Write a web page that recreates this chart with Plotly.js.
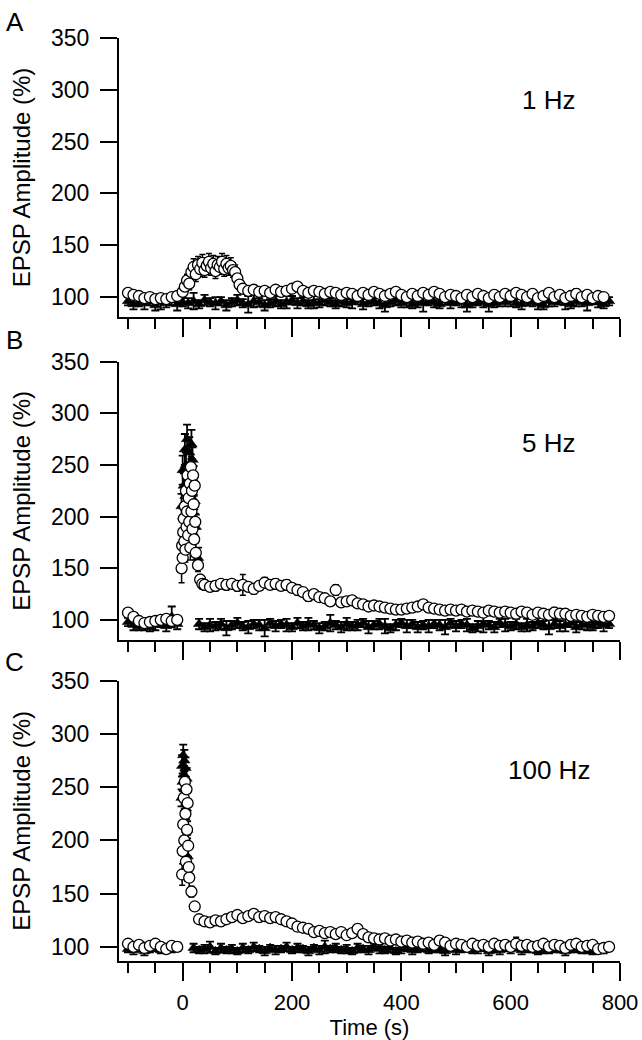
<!DOCTYPE html>
<html>
<head>
<meta charset="utf-8">
<script src="https://cdn.plot.ly/plotly-3.0.1.min.js"></script>
<style>
  html, body { margin: 0; padding: 0; background: #fff; }
  #chart { width: 642px; height: 1040px; }
</style>
</head>
<body>
<div id="chart"></div>
<script>
// ---------------- DATA ----------------
// Panel A (1 Hz) – open circles (test pathway)
const tA_open = [-100,-90,-80,-70,-60,-50,-40,-30,-20,-10,
  0,4,8,12,16,20,24,28,32,36,40,44,48,52,56,60,64,68,72,76,80,84,88,92,96,100,104,
  110,120,130,140,150,160,170,180,190,200,210,220,230,240,250,260,270,280,290,300,
  310,320,330,340,350,360,370,380,390,400,410,420,430,440,450,460,470,480,490,500,
  510,520,530,540,550,560,570,580,590,600,610,620,630,640,650,660,670,680,690,700,
  710,720,730,740,750,760,770];
const yA_open = [104,102,101,99,100,98,99,98,100,101,
  105,110,116,113,124,129,122,131,127,133,126,130,134,128,132,125,131,129,134,127,132,128,130,126,124,118,112,
  108,106,107,105,106,104,107,105,106,108,110,106,104,106,105,103,105,104,102,104,
  103,101,104,102,105,103,101,103,105,102,100,103,101,104,102,105,103,100,102,101,
  99,102,100,103,101,99,102,100,103,101,104,102,100,103,99,101,104,100,102,99,
  101,103,100,102,99,101,100];
const eA_open = [3,3,3,3,3,3,3,3,3,3,
  4,5,6,6,7,8,7,8,7,8,7,8,8,7,8,7,8,7,8,7,8,7,8,7,7,6,5,
  4,3,4,3,4,3,4,3,4,3,4,3,3,4,3,3,4,3,3,4,
  3,3,4,3,4,3,3,4,3,3,3,4,3,3,4,3,3,3,4,3,
  3,3,4,3,3,3,4,3,3,5,3,4,3,3,4,3,3,4,3,3,
  3,5,3,3,4,3,3];
// Panel A – filled markers (control pathway)
const tA_fill = [-100,-90,-80,-70,-60,-50,-40,-30,-20,-10,0,10,20,30,40,50,60,70,80,90,
  100,110,120,130,140,150,160,170,180,190,200,210,220,230,240,250,260,270,280,290,
  300,310,320,330,340,350,360,370,380,390,400,410,420,430,440,450,460,470,480,490,
  500,510,520,530,540,550,560,570,580,590,600,610,620,630,640,650,660,670,680,690,
  700,710,720,730,740,750,760,770,780];
const yA_fill = [96,93,95,94,96,92,95,94,97,93,95,94,96,93,97,95,94,96,92,95,
  97,94,93,96,95,92,94,96,93,95,97,94,96,93,95,94,97,95,93,96,
  94,95,97,93,95,96,94,92,95,97,94,96,93,95,94,96,95,93,97,94,
  96,95,92,94,96,95,93,94,96,95,97,94,93,96,95,94,92,96,95,97,
  94,93,96,95,94,97,95,93,96];
const eA_fill = [4,5,4,6,4,5,7,4,5,6,4,5,8,4,5,4,6,4,5,4,
  5,4,8,6,4,5,4,5,4,6,4,5,4,4,6,4,5,4,4,5,
  4,6,4,5,4,4,5,6,4,5,4,6,4,5,8,4,5,4,4,5,
  4,5,6,4,4,5,7,4,5,4,6,4,5,4,4,6,4,5,4,4,
  6,4,5,4,7,4,5,4,4];

// Panel B (5 Hz) – open circles
const tB_open = [-100,-90,-80,-70,-60,-50,-40,-30,-20,-10,
  -2,-1,0,1,2,3,4,5,6,7,8,9,10,11,12,13,14,15,16,17,18,19,20,21,22,23,24,28,32,36,
  40,50,60,70,80,90,100,110,120,130,140,150,160,170,180,190,200,210,220,230,
  240,250,260,270,280,290,300,310,320,330,340,350,360,370,380,390,400,410,420,430,
  440,450,460,470,480,490,500,510,520,530,540,550,560,570,580,590,600,610,620,630,
  640,650,660,670,680,690,700,710,720,730,740,750,760,770,780];
const yB_open = [107,103,99,97,98,99,100,101,99,100,
  150,172,160,185,198,176,210,168,225,190,205,240,182,218,195,232,170,248,205,225,188,240,212,178,230,195,165,153,139,135,
  134,132,133,135,134,135,133,134,132,130,133,136,134,135,133,134,131,129,127,123,
  125,122,121,118,129,117,118,119,116,115,113,114,113,112,111,110,110,111,112,113,
  115,112,111,110,109,110,109,110,108,109,108,107,109,108,107,108,107,106,108,107,
  105,107,106,105,107,106,106,104,105,104,103,105,104,103,104];
const eB_open = [3,3,3,3,3,3,3,3,3,3,
  14,10,12,10,10,12,10,12,10,12,10,12,10,10,12,10,12,10,12,10,12,10,10,12,10,12,10,6,5,5,
  5,4,5,4,5,4,5,10,4,5,4,5,4,5,4,5,4,5,4,5,
  4,4,4,4,5,4,4,4,4,4,4,4,4,4,4,4,4,4,4,4,
  4,4,4,4,4,4,4,4,4,4,4,4,4,4,4,4,4,4,4,4,
  4,4,4,4,5,4,4,4,4,4,4,4,4,4,4];
// Panel B – filled markers
const tB_fill = [-100,-90,-80,-70,-60,-50,-40,-30,-20,-10,
  -2,0,2,4,6,8,10,12,14,16,18,20,22,24,28,
  30,40,50,60,70,80,90,100,110,120,130,140,150,160,170,180,190,200,210,220,
  230,240,250,260,270,280,290,300,310,320,330,340,350,360,370,380,390,400,410,420,
  430,440,450,460,470,480,490,500,510,520,530,540,550,560,570,580,590,600,610,620,
  630,640,650,660,670,680,690,700,710,720,730,740,750,760,770,780];
const yB_fill = [98,95,94,96,93,95,97,94,103,96,
  210,245,230,265,250,275,240,262,225,270,255,235,215,190,160,
  96,93,95,94,96,92,95,97,94,93,96,95,92,97,94,96,95,93,97,94,
  96,95,92,94,97,95,93,96,94,95,97,93,95,96,94,92,95,97,94,96,
  93,95,94,96,95,93,97,94,96,95,92,94,96,95,93,97,95,94,96,93,
  95,94,97,95,93,96,94,95,97,93,95,96,94,97,95,96];
const eB_fill = [4,5,4,6,4,5,4,5,10,5,
  12,14,12,15,12,14,12,15,12,14,12,14,12,12,10,
  5,4,6,4,5,7,4,5,4,6,4,5,8,4,5,4,6,4,5,4,
  6,4,5,4,8,4,5,6,4,5,4,6,4,5,7,4,5,4,6,4,
  5,4,6,4,5,7,4,5,4,6,4,5,8,4,5,4,6,4,5,4,
  6,4,5,4,7,4,5,6,4,5,4,6,4,5,6,4];

// Panel C (100 Hz) – open circles
const tC_open = [-100,-90,-80,-70,-60,-50,-40,-30,-20,-10,
  -1,0,1,2,3,4,5,6,7,8,9,10,11,12,16,22,
  30,40,50,60,70,80,90,100,110,120,130,140,150,160,170,180,190,200,210,220,
  230,240,250,260,270,280,290,300,310,320,330,340,350,360,370,380,390,400,410,420,
  430,440,450,460,470,480,490,500,510,520,530,540,550,560,570,580,590,600,610,620,
  630,640,650,660,670,680,690,700,710,720,730,740,750,760,770,780];
const yC_open = [103,100,102,99,101,103,100,98,101,100,
  168,190,215,240,200,255,225,180,248,210,235,195,175,165,152,138,
  126,124,123,125,124,126,128,130,127,129,131,128,129,127,128,126,124,122,119,118,
  117,114,115,113,114,112,114,111,113,117,112,109,108,107,108,106,107,105,106,104,
  105,103,104,102,106,104,101,103,102,100,103,101,102,100,103,101,102,100,103,101,
  102,100,101,103,100,102,101,99,102,103,100,101,102,98,99,100];
const eC_open = [3,3,3,3,3,3,3,3,3,3,
  10,12,12,10,12,10,12,10,12,10,12,10,10,12,5,4,
  4,3,4,3,4,3,4,4,3,4,3,4,3,4,3,4,3,4,4,3,
  4,3,4,3,4,3,4,3,4,4,3,3,4,3,3,4,3,3,4,3,
  3,4,3,3,4,3,3,4,3,3,4,3,3,4,3,3,4,3,6,3,
  3,4,3,3,4,3,3,4,3,3,4,3,3,4,3,3];
// Panel C – filled markers
const tC_fill = [-100,-90,-80,-70,-60,-50,-40,-30,-20,-10,
  -2,-1,0,1,2,3,4,5,6,7,8,9,10,
  20,30,40,50,60,70,80,90,100,110,120,130,140,150,160,170,180,190,200,210,220,
  230,240,250,260,270,280,290,300,310,320,330,340,350,360,370,380,390,400,410,420,
  430,440,450,460,470,480,490,500,510,520,530,540,550,560,570,580,590,600,610,620,
  630,640,650,660,670,680,690,700,710,720,730,740,750,760,770,780];
const yC_fill = [98,97,99,96,98,100,97,99,98,100,
  240,270,255,280,262,275,248,268,230,258,210,185,170,
  99,97,98,100,96,99,97,98,96,99,97,100,98,96,99,97,98,100,97,99,
  98,96,99,97,100,98,99,97,98,96,99,98,97,100,98,97,99,96,98,99,
  97,98,100,97,99,98,96,99,97,98,100,97,98,99,96,98,97,99,98,100,
  97,98,99,96,98,97,99,98,96,98,99,97,98,96,98,97];
const eC_fill = [3,4,3,4,3,4,3,4,3,4,
  8,10,8,10,8,10,8,10,8,10,8,10,8,
  4,3,4,5,3,4,3,4,3,4,3,4,3,4,3,4,3,4,3,4,3,
  4,3,4,6,3,4,3,4,3,4,3,4,3,4,3,4,3,4,3,4,
  3,4,3,4,3,4,3,4,3,4,3,4,3,4,3,4,3,4,3,4,
  3,4,3,4,3,4,3,4,3,4,3,4,3,4,3,4];

const yTicks = [100,150,200,250,300,350];
const xTickVals = [0,200,400,600,800];
const freqLabels = ['1 Hz','5 Hz','100 Hz'];
const panelLetters = ['A','B','C'];

// ---------------- CHART ----------------
const FONT = 'Liberation Sans, Arial, Helvetica, sans-serif';

function openTrace(t, y, e, ax) {
  return {x: t, y: y, type: 'scatter', mode: 'markers', xaxis: 'x' + ax, yaxis: 'y' + ax,
    marker: {symbol: 'circle', size: 11, color: '#ffffff', line: {color: '#000', width: 1.3}},
    error_y: {type: 'data', array: e, visible: true, color: '#000', thickness: 1.5, width: 3},
    showlegend: false, hoverinfo: 'x+y'};
}
function fillTrace(t, y, e, ax) {
  return {x: t, y: y, type: 'scatter', mode: 'markers', xaxis: 'x' + ax, yaxis: 'y' + ax,
    marker: {symbol: 'triangle-up', size: 10, color: '#000', line: {color: '#000', width: 0.5}},
    error_y: {type: 'data', array: e, visible: true, color: '#000', thickness: 1.8, width: 4},
    showlegend: false, hoverinfo: 'x+y'};
}

const data = [
  fillTrace(tA_fill, yA_fill, eA_fill, ''), openTrace(tA_open, yA_open, eA_open, ''),
  fillTrace(tB_fill, yB_fill, eB_fill, '2'), openTrace(tB_open, yB_open, eB_open, '2'),
  fillTrace(tC_fill, yC_fill, eC_fill, '3'), openTrace(tC_open, yC_open, eC_open, '3')
];

function xAxis(anchor, showLabels, title) {
  const a = {
    anchor: anchor, domain: [0, 1], range: [-116.5, 800],
    showline: true, linecolor: '#000', linewidth: 2,
    ticks: 'outside', ticklen: 18, tickwidth: 2, tickcolor: '#000',
    tickmode: 'array', tickvals: xTickVals,
    showticklabels: showLabels, ticklabelstandoff: 3,
    tickfont: {family: FONT, size: 22, color: '#000'},
    minor: {tickmode: 'linear', tick0: 0, dtick: 50, ticks: 'outside', ticklen: 10, tickwidth: 2, tickcolor: '#000', showgrid: false},
    showgrid: false, zeroline: false
  };
  if (title) a.title = {text: title, font: {family: FONT, size: 22, color: '#000'}, standoff: 5};
  return a;
}
function yAxis(anchor, domain, range) {
  return {
    anchor: anchor, domain: domain, range: range,
    showline: true, linecolor: '#000', linewidth: 2,
    ticks: 'outside', ticklen: 17, tickwidth: 2, tickcolor: '#000',
    tickmode: 'array', tickvals: yTicks, ticklabelstandoff: 6,
    tickfont: {family: FONT, size: 23, color: '#000'},
    title: {text: 'EPSP Amplitude (%)', font: {family: FONT, size: 24, color: '#000'}, standoff: 14},
    showgrid: false, zeroline: false
  };
}

const annFont = {family: FONT, size: 26, color: '#000'};
const layout = {
  width: 642, height: 1040,
  margin: {l: 119, r: 22, t: 38, b: 79},
  paper_bgcolor: '#fff', plot_bgcolor: '#fff',
  showlegend: false,
  xaxis: xAxis('y', false),
  yaxis: yAxis('x', [0.6977, 1], [80.7, 350]),
  xaxis2: xAxis('y2', false),
  yaxis2: yAxis('x2', [0.3478, 0.6493], [80.6, 350]),
  xaxis3: xAxis('y3', true, 'Time (s)'),
  yaxis3: yAxis('x3', [0, 0.3037], [86.8, 350]),
  annotations: [
    {text: panelLetters[0], xref: 'paper', yref: 'paper', x: -0.2076, y: 1.0173, showarrow: false, font: annFont, xanchor: 'center', yanchor: 'middle'},
    {text: panelLetters[1], xref: 'paper', yref: 'paper', x: -0.2076, y: 0.6728, showarrow: false, font: annFont, xanchor: 'center', yanchor: 'middle'},
    {text: panelLetters[2], xref: 'paper', yref: 'paper', x: -0.2076, y: 0.3239, showarrow: false, font: annFont, xanchor: 'center', yanchor: 'middle'},
    {text: freqLabels[0], xref: 'paper', yref: 'paper', x: 0.858, y: 0.9328, showarrow: false, font: annFont, xanchor: 'center', yanchor: 'middle'},
    {text: freqLabels[1], xref: 'paper', yref: 'paper', x: 0.858, y: 0.5612, showarrow: false, font: annFont, xanchor: 'center', yanchor: 'middle'},
    {text: freqLabels[2], xref: 'paper', yref: 'paper', x: 0.858, y: 0.2069, showarrow: false, font: annFont, xanchor: 'center', yanchor: 'middle'}
  ]
};

Plotly.newPlot('chart', data, layout, {staticPlot: true, displayModeBar: false});
</script>
</body>
</html>
